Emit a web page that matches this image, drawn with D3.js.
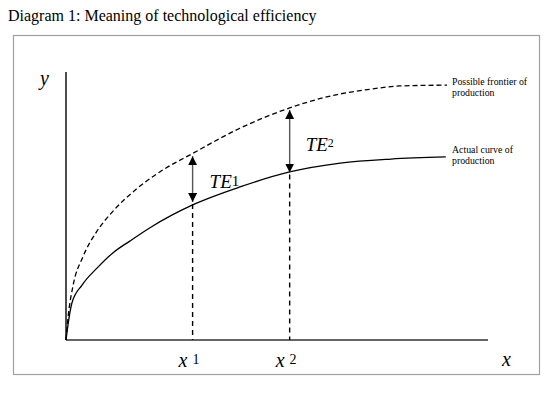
<!DOCTYPE html>
<html>
  <head>
    <meta charset="utf-8" />
    <script src="https://d3js.org/d3.v7.min.js"></script>
    <style>
      body {
        margin: 0;
        background: #fff;
      }
      svg text {
        font-family: "Liberation Serif", "Times New Roman", serif;
        fill: #000;
      }
    </style>
  </head>
  <body>
    <svg id="chart" width="558" height="393"></svg>

    <script>
      // Curves (x and y in 0..100 units)
      const actualX = [0, 0.3, 1.4, 3.8, 7.4, 11.1, 15.2, 20, 30, 41.2, 53, 65, 77, 90];
      const actualY = [0, 3.7, 13.8, 20.5, 26.9, 32.5, 37.0, 42.0, 50.4, 57.1, 62.7, 66.0, 67.5, 68.3];

      const frontierX = [0, 0.5, 1.7, 4, 7.3, 11.1, 16.8, 22.3, 30, 41.2, 53, 63.7, 72.7, 79.1, 90.3];
      const frontierY = [0, 8.6, 20.5, 31.0, 40.5, 48.0, 56.5, 62.8, 69.6, 79.0, 86.6, 91.4, 93.7, 94.8, 95.1];

      // Technological efficiency gaps
      const gapX = [30, 53];
      const gapLow = [51.5, 62.5];
      const gapHigh = [68.6, 85.8];
      const gapNames = ["1", "2"];

      const curveNames = [
        ["Possible frontier of", "production"],
        ["Actual curve of", "production"],
      ];

      const svg = d3.select("#chart");

      svg
        .append("text")
        .attr("x", 8)
        .attr("y", 21)
        .style("font-size", "16px")
        .text("Diagram 1: Meaning of technological efficiency");

      svg
        .append("rect")
        .attr("x", 13.5)
        .attr("y", 35.5)
        .attr("width", 526)
        .attr("height", 339)
        .attr("fill", "none")
        .attr("stroke", "#a0a0a0")
        .attr("stroke-width", 1.2);

      const xScale = d3.scaleLinear().domain([0, 100]).range([66, 488]);
      const yScale = d3.scaleLinear().domain([0, 100]).range([340, 72]);

      const defs = svg.append("defs");
      defs
        .append("marker")
        .attr("id", "head")
        .attr("viewBox", "0 0 10 10")
        .attr("refX", 10)
        .attr("refY", 5)
        .attr("markerWidth", 9)
        .attr("markerHeight", 9)
        .attr("markerUnits", "userSpaceOnUse")
        .attr("orient", "auto-start-reverse")
        .append("path")
        .attr("d", "M0,0 L10,5 L0,10 Z")
        .attr("fill", "#000");

      // axes
      svg
        .append("line")
        .attr("x1", xScale(0))
        .attr("x2", xScale(0))
        .attr("y1", yScale(0))
        .attr("y2", yScale(100))
        .attr("stroke", "#000")
        .attr("stroke-width", 1.4);
      svg
        .append("line")
        .attr("x1", xScale(0))
        .attr("x2", xScale(100))
        .attr("y1", yScale(0))
        .attr("y2", yScale(0))
        .attr("stroke", "#333")
        .attr("stroke-width", 1.6);

      const line = d3
        .line()
        .x((d) => xScale(d[0]))
        .y((d) => yScale(d[1]))
        .curve(d3.curveMonotoneX);

      const frontier = d3.zip(frontierX, frontierY);
      const actual = d3.zip(actualX, actualY);

      svg
        .append("path")
        .datum(frontier)
        .attr("d", line)
        .attr("fill", "none")
        .attr("stroke", "#000")
        .attr("stroke-width", 1.3)
        .attr("stroke-dasharray", "5,3");

      svg
        .append("path")
        .datum(actual)
        .attr("d", line)
        .attr("fill", "none")
        .attr("stroke", "#000")
        .attr("stroke-width", 1.3);

      // vertical dashed drops to the x axis, and the gap arrows
      gapX.forEach((gx, i) => {
        svg
          .append("line")
          .attr("x1", xScale(gx))
          .attr("x2", xScale(gx))
          .attr("y1", yScale(gapLow[i]) + 2)
          .attr("y2", yScale(0))
          .attr("stroke", "#000")
          .attr("stroke-width", 1.4)
          .attr("stroke-dasharray", "5,4");

        svg
          .append("line")
          .attr("x1", xScale(gx))
          .attr("x2", xScale(gx))
          .attr("y1", yScale(gapHigh[i]))
          .attr("y2", yScale(gapLow[i]))
          .attr("stroke", "#555")
          .attr("stroke-width", 1.4)
          .attr("marker-start", "url(#head)")
          .attr("marker-end", "url(#head)");

        // x tick label with superscript
        const xl = svg
          .append("text")
          .attr("x", xScale(gx) - 14)
          .attr("y", 367);
        xl.append("tspan").style("font-style", "italic").style("font-size", "20px").text("x");
        xl.append("tspan").attr("dx", 5).attr("dy", -3).style("font-size", "14px").text(gapNames[i]);
      });

      // TE labels
      const teLabels = [
        { dx: 17, y: 188, supSize: 15, supDy: -2 },
        { dx: 16, y: 151, supSize: 12, supDy: -4 },
      ];
      teLabels.forEach((t, i) => {
        const te = svg
          .append("text")
          .attr("x", xScale(gapX[i]) + t.dx)
          .attr("y", t.y);
        te.append("tspan").style("font-style", "italic").style("font-size", "19px").text("TE");
        te.append("tspan").attr("dy", t.supDy).style("font-size", t.supSize + "px").text(gapNames[i]);
      });

      // axis names
      svg
        .append("text")
        .attr("x", 40)
        .attr("y", 85)
        .style("font-style", "italic")
        .style("font-size", "20px")
        .text("y");
      svg
        .append("text")
        .attr("x", 502)
        .attr("y", 366)
        .style("font-style", "italic")
        .style("font-size", "20px")
        .text("x");

      // curve labels
      const curveEnds = [frontier[frontier.length - 1], actual[actual.length - 1]];
      curveNames.forEach((lines, i) => {
        const t = svg
          .append("text")
          .attr("x", 452)
          .attr("y", yScale(curveEnds[i][1]) + (i === 0 ? 0 : -4))
          .style("font-size", "9.8px");
        lines.forEach((s, j) => {
          t.append("tspan")
            .attr("x", 452)
            .attr("dy", j === 0 ? 0 : 11)
            .text(s);
        });
      });
    </script>
  </body>
</html>
